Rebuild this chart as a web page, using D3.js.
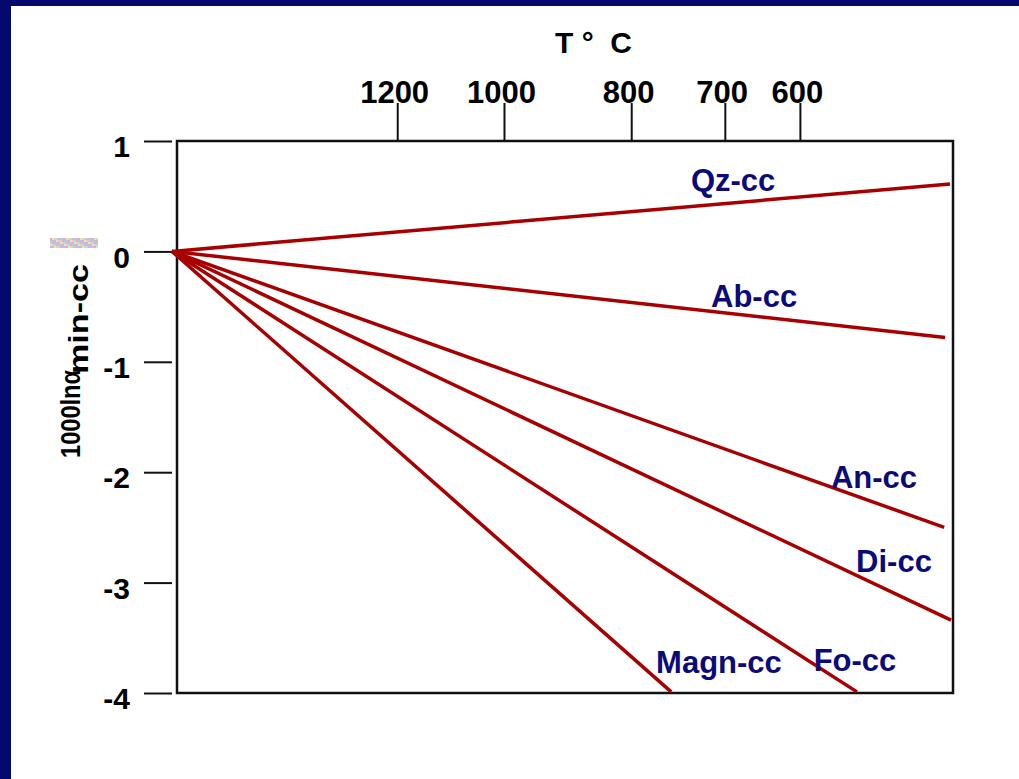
<!DOCTYPE html>
<html>
<head>
<meta charset="utf-8">
<script src="https://cdn.jsdelivr.net/npm/d3@7"></script>
<style>
  html, body { margin: 0; padding: 0; background: #ffffff; }
  svg { display: block; }
  text { font-family: "Liberation Sans", Arial, sans-serif; font-weight: bold; }
</style>
</head>
<body>
<svg width="1019" height="779"></svg>
<script>
// x is 10^6/T^2 (T in K); y is 1000 ln alpha(min-cc)
var tempLabels = ['1200', '1000', '800', '700', '600'];
var tempTickX = [0.462, 0.681, 0.942, 1.134, 1.288];
var yTicks = [1, 0, -1, -2, -3, -4];

var minerals = ['Qz-cc', 'Ab-cc', 'An-cc', 'Di-cc', 'Fo-cc', 'Magn-cc'];
var endX = [1.596, 1.586, 1.584, 1.598, 1.405, 1.024];
var endY = [0.61, -0.78, -2.50, -3.34, -3.99, -3.99];
var labelX = [1.151, 1.194, 1.44, 1.481, 1.401, 1.122];
var labelY = [0.547, -0.50, -2.14, -2.905, -3.80, -3.82];

(function () {
  'use strict';
  var svg = d3.select('svg');
  var navy = '#05096e';
  var red = '#a80000';
  var ink = '#0a0a78';

  // slide frame
  svg.append('rect').attr('x', 0).attr('y', 0).attr('width', 1019).attr('height', 779).attr('fill', '#fff');
  svg.append('rect').attr('x', 0).attr('y', 0).attr('width', 1019).attr('height', 6).attr('fill', navy);
  svg.append('rect').attr('x', 0).attr('y', 0).attr('width', 11).attr('height', 779).attr('fill', navy);

  var x = d3.scaleLinear().domain([0, 1.6]).range([172, 952]);
  var y = d3.scaleLinear().domain([1, -4]).range([141, 693]);

  // plot box
  svg.append('rect')
    .attr('x', 177).attr('y', y(1))
    .attr('width', 953 - 177).attr('height', y(-4) - y(1))
    .attr('fill', 'none').attr('stroke', '#111').attr('stroke-width', 2.5);

  // top temperature axis
  var top = svg.append('g')
    .attr('transform', 'translate(0,' + y(1) + ')')
    .call(d3.axisTop(x).tickValues(tempTickX)
      .tickFormat(function (d, i) { return tempLabels[i]; })
      .tickSize(38).tickPadding(0));
  top.select('.domain').remove();
  top.selectAll('line').attr('stroke', '#111').attr('stroke-width', 2);
  top.selectAll('text').attr('font-size', 31).attr('fill', '#000').attr('dx', '-0.1em');

  svg.append('text')
    .attr('x', 555).attr('y', 53)
    .attr('font-size', 30)
    .style('white-space', 'pre')
    .text('T °  C');

  // left axis
  var left = svg.append('g')
    .attr('transform', 'translate(172,0)')
    .call(d3.axisLeft(y).tickValues(yTicks).tickFormat(d3.format('d')).tickSize(28).tickPadding(14));
  left.select('.domain').remove();
  left.selectAll('line').attr('stroke', '#111').attr('stroke-width', 2);
  left.selectAll('text').attr('font-size', 30).attr('fill', '#000').attr('dy', '0.52em')
    .text(function (d) { return d < 0 ? '-' + Math.abs(d) : d; });

  // y title
  svg.append('text')
    .attr('transform', 'translate(80,458) rotate(-90)')
    .attr('font-size', 27)
    .attr('textLength', 88).attr('lengthAdjust', 'spacingAndGlyphs')
    .text('1000lnα');
  svg.append('text')
    .attr('transform', 'translate(88,374) rotate(-90)')
    .attr('font-size', 28)
    .attr('textLength', 110).attr('lengthAdjust', 'spacingAndGlyphs')
    .text('min-cc');

  // little speckled patch left of the title
  var speck = ['#e8a8c8', '#b8e0b0', '#c0c0d0', '#f0d0a8', '#b0c8f0', '#e0e0e0', '#d8b0e8'];
  var cells = d3.range(24 * 5);
  svg.append('g').selectAll('rect').data(cells).enter().append('rect')
    .attr('x', function (d) { return 50 + (d % 24) * 2; })
    .attr('y', function (d) { return 238 + Math.floor(d / 24) * 2; })
    .attr('width', 2).attr('height', 2)
    .attr('fill', function (d) { return speck[(d * 5 + Math.floor(d / 24) * 3) % speck.length]; });

  // fractionation lines
  svg.append('g').selectAll('line').data(minerals).enter().append('line')
    .attr('x1', x(0)).attr('y1', y(0))
    .attr('x2', function (d, i) { return x(endX[i]); })
    .attr('y2', function (d, i) { return y(endY[i]); })
    .attr('stroke', red).attr('stroke-width', 3.5);

  svg.append('g').selectAll('text').data(minerals).enter().append('text')
    .attr('x', function (d, i) { return x(labelX[i]); })
    .attr('y', function (d, i) { return y(labelY[i]); })
    .attr('text-anchor', 'middle')
    .attr('font-size', 31)
    .attr('fill', ink)
    .text(function (d) { return d; });
})();
</script>
</body>
</html>
